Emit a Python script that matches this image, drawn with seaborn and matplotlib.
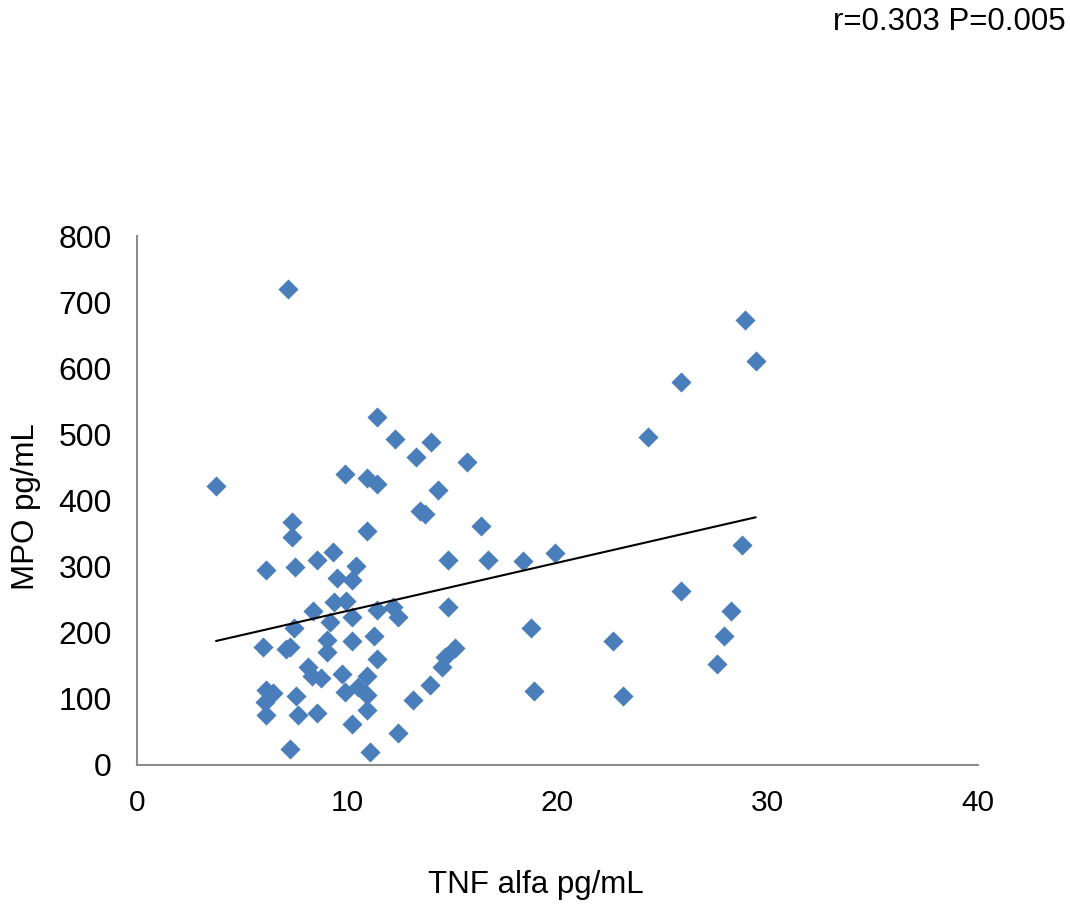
import numpy as np
import pandas as pd
import matplotlib
matplotlib.use('Agg')
import matplotlib.pyplot as plt
import seaborn as sns

# values
tnf = [7.18, 11.41, 12.27, 13.98, 13.27, 9.89, 10.94, 11.41, 3.76, 13.46,
       13.70, 7.37, 10.94, 7.37, 9.32, 8.56, 6.13, 7.51, 10.41, 9.51,
       10.22, 9.37, 9.94, 8.37, 10.22, 9.18, 11.41, 12.17, 12.41, 7.47,
       5.99, 7.28, 7.10, 9.03, 9.03, 10.22, 11.27, 11.41, 8.13, 8.32,
       8.75, 9.75, 10.94, 9.89, 10.51, 10.94, 10.94, 6.13, 6.47, 6.09,
       6.13, 7.56, 7.66, 8.56, 10.22, 12.41, 7.28, 11.08, 13.12, 13.93,
       15.69, 14.31, 16.36, 14.79, 16.69, 18.35, 19.88, 14.79, 18.73, 15.12,
       14.65, 14.50, 18.88, 25.87, 24.30, 28.91, 29.43, 28.77, 25.87, 28.25,
       22.63, 27.91, 27.58, 23.11]
mpo = [720, 526, 493, 488, 466, 441, 434, 425, 422, 384,
       380, 368, 354, 345, 322, 310, 295, 300, 301, 283,
       280, 247, 248, 233, 224, 216, 234, 239, 224, 207,
       179, 179, 175, 189, 171, 188, 195, 160, 148, 134,
       131, 138, 134, 111, 118, 106, 83, 113, 109, 95,
       76, 104, 76, 79, 62, 49, 24, 20, 98, 121,
       458, 416, 362, 310, 310, 309, 320, 239, 207, 177,
       164, 148, 112, 580, 496, 673, 611, 333, 263, 233,
       188, 195, 153, 104]

x_ticks = [0, 10, 20, 30, 40]
y_ticks = [0, 100, 200, 300, 400, 500, 600, 700, 800]
stat_text = 'r=0.303 P=0.005'

df = pd.DataFrame({'tnf': tnf, 'mpo': mpo})

sns.set_style('white')
plt.rcParams['font.family'] = ['Liberation Sans', 'DejaVu Sans']
plt.rcParams['text.color'] = 'black'
plt.rcParams['xtick.color'] = 'black'
plt.rcParams['ytick.color'] = 'black'

fs = 22.5

fig = plt.figure(figsize=(10.7, 9.05), dpi=100)
ax = fig.add_axes([0.128, 0.1547, 0.786, 0.5843])

sns.scatterplot(data=df, x='tnf', y='mpo', marker='D', s=105,
                color='#4A7EBB', linewidth=0, ax=ax, zorder=3)

# linear trend line
k, b = np.polyfit(df['tnf'], df['mpo'], 1)
xs = np.array([df['tnf'].min(), df['tnf'].max()])
ax.plot(xs, k * xs + b, color='black', lw=1.5, zorder=4)

ax.set_xlim(0, 40)
ax.set_ylim(0, 800)
ax.set_xticks(x_ticks)
ax.set_yticks(y_ticks)
ax.tick_params(axis='both', length=0, labelcolor='black')
ax.tick_params(axis='x', pad=17, labelsize=21.5)
ax.tick_params(axis='y', pad=18, labelsize=23)
ax.set_xlabel('')
ax.set_ylabel('')

for side in ['top', 'right']:
    ax.spines[side].set_visible(False)
for side in ['left', 'bottom']:
    ax.spines[side].set_color('#8c8c8c')
    ax.spines[side].set_linewidth(1.5)

fig.text(536 / 1070, 1 - 885 / 905, 'TNF alfa pg/mL', ha='center', va='center', fontsize=fs)
fig.text(26 / 1070, 1 - 507 / 905, 'MPO pg/mL', ha='center', va='center',
         rotation=90, fontsize=fs)
fig.text(1066 / 1070, 1 - 22 / 905, stat_text, ha='right', va='center', fontsize=fs)

fig.savefig('out.png', dpi=100)
